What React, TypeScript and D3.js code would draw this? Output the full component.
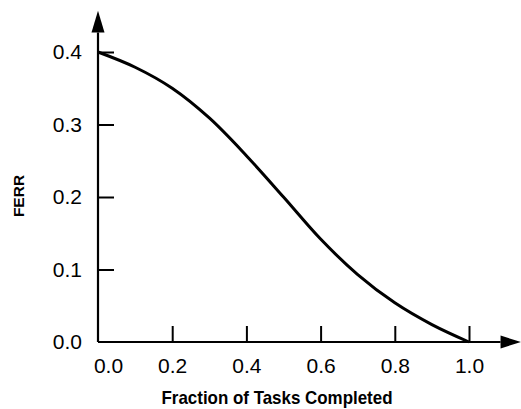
import React, { useEffect, useRef } from "react";
import * as d3 from "d3";

// curve
const fraction = [0.0, 0.1, 0.2, 0.3, 0.4, 0.5, 0.6, 0.7, 0.8, 0.9, 1.0];
const ferr = [0.4, 0.379, 0.35, 0.309, 0.257, 0.2, 0.142, 0.093, 0.054, 0.024, 0.0];
const xTicks = [0, 0.2, 0.4, 0.6, 0.8, 1.0];
const yTicks = [0, 0.1, 0.2, 0.3, 0.4];

const App = () => {
  const ref = useRef<SVGSVGElement>(null);

  useEffect(() => {
    const svg = d3.select(ref.current);
    svg.selectAll("*").remove();

    const width = 521,
      height = 409;
    const margin = { top: 52, right: 52, bottom: 67, left: 98 };

    const x = d3.scaleLinear().domain([0, 1]).range([margin.left, width - margin.right]);
    const y = d3.scaleLinear().domain([0, 0.4]).range([height - margin.bottom, margin.top]);

    const g = svg.append("g");
    const font = "'Liberation Sans', Arial, Helvetica, sans-serif";

    // axis lines with arrowheads
    const x0 = x(0),
      y0 = y(0);
    const xEnd = x(1.085),
      xTip = x(1.14);
    const yEnd = y(0.427),
      yTip = y(0.457);

    g.append("line")
      .attr("x1", x0)
      .attr("y1", y0)
      .attr("x2", xEnd)
      .attr("y2", y0)
      .attr("stroke", "#000")
      .attr("stroke-width", 2.2);
    g.append("line")
      .attr("x1", x0)
      .attr("y1", y0)
      .attr("x2", x0)
      .attr("y2", yEnd)
      .attr("stroke", "#000")
      .attr("stroke-width", 2.2);
    g.append("path")
      .attr("d", `M${xTip},${y0} L${xEnd},${y0 - 6.5} L${xEnd},${y0 + 6.5} Z`)
      .attr("fill", "#000");
    g.append("path")
      .attr("d", `M${x0},${yTip} L${x0 - 6.5},${yEnd} L${x0 + 6.5},${yEnd} Z`)
      .attr("fill", "#000");

    const xAxis = g
      .append("g")
      .attr("transform", `translate(0,${y0})`)
      .call(
        d3
          .axisBottom(x)
          .tickValues(xTicks)
          .tickFormat(d3.format(".1f"))
          .tickSizeInner(-16)
          .tickSizeOuter(0)
          .tickPadding(16)
      );
    xAxis.select(".domain").remove();
    xAxis.selectAll(".tick line").attr("stroke-width", 2).filter((d) => d === 0).remove();
    xAxis
      .selectAll(".tick text")
      .attr("font-family", font)
      .attr("font-size", 21)
      .attr("fill", "#000")
      .filter((d) => d === 0)
      .attr("x", 10);

    const yAxis = g
      .append("g")
      .attr("transform", `translate(${x0},0)`)
      .call(
        d3
          .axisLeft(y)
          .tickValues(yTicks)
          .tickFormat(d3.format(".1f"))
          .tickSizeInner(-16)
          .tickSizeOuter(0)
          .tickPadding(16)
      );
    yAxis.select(".domain").remove();
    yAxis.selectAll(".tick line").attr("stroke-width", 2).filter((d) => d === 0).remove();
    yAxis
      .selectAll(".tick text")
      .attr("font-family", font)
      .attr("font-size", 21)
      .attr("fill", "#000");

    // curve
    const line = d3
      .line<number>()
      .x((d, i) => x(fraction[i]))
      .y((d) => y(d))
      .curve(d3.curveCatmullRom);

    g.append("path")
      .datum(ferr)
      .attr("d", line)
      .attr("fill", "none")
      .attr("stroke", "#000")
      .attr("stroke-width", 3);

    // axis titles
    g.append("text")
      .attr("x", 277)
      .attr("y", 404)
      .attr("text-anchor", "middle")
      .attr("font-family", font)
      .attr("font-weight", "bold")
      .attr("font-size", 18.5)
      .attr("textLength", 231)
      .attr("lengthAdjust", "spacingAndGlyphs")
      .attr("fill", "#000")
      .text("Fraction of Tasks Completed");

    g.append("text")
      .attr("transform", `translate(24,196) rotate(-90)`)
      .attr("text-anchor", "middle")
      .attr("font-family", font)
      .attr("font-weight", "bold")
      .attr("font-size", 15.5)
      .attr("fill", "#000")
      .text("FERR");
  }, []);

  return (
    <svg
      ref={ref}
      width={521}
      height={409}
      style={{ position: "absolute", left: 0, top: 0, background: "#fff" }}
    />
  );
};

export default App;
